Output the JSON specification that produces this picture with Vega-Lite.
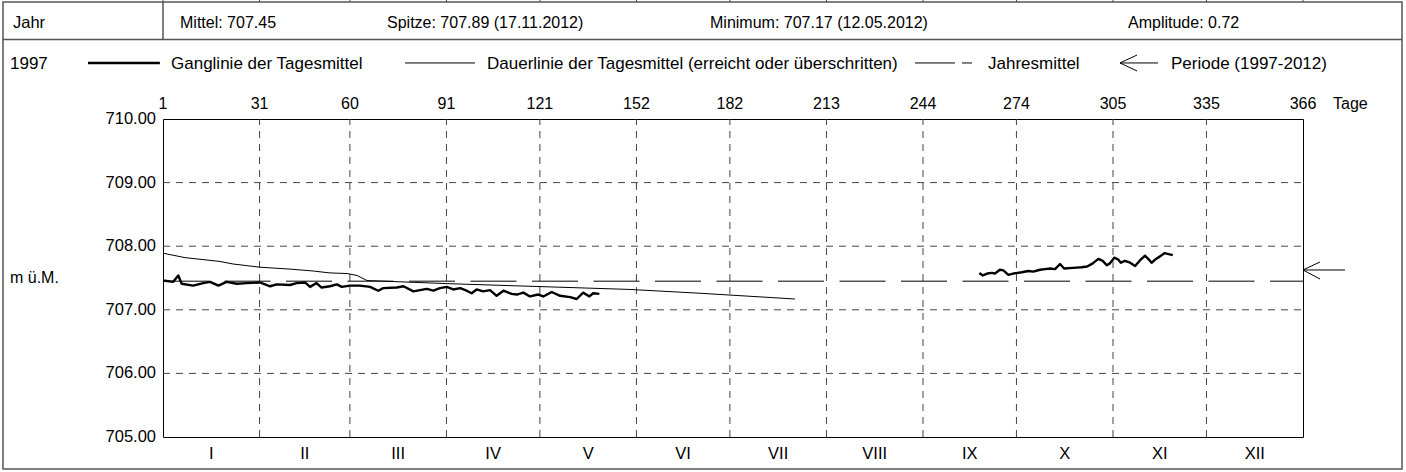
{
  "$schema": "https://vega.github.io/schema/vega-lite/v6.json",
  "width": 1140,
  "height": 318,
  "autosize": {"type": "none"},
  "padding": {"left": 163, "top": 119, "right": 103, "bottom": 35},
  "background": "white",
  "config": {"view": {"stroke": "#000", "strokeWidth": 1}, "font": "Liberation Sans"},
  "data": {"values": [{}]},
  "datasets": {
    "gang": [
      {"tag": 0, "w": 707.46, "seg": 1}, {"tag": 3.3, "w": 707.44, "seg": 1}, {"tag": 4.9, "w": 707.54, "seg": 1},
      {"tag": 6.0, "w": 707.41, "seg": 1}, {"tag": 9.7, "w": 707.38, "seg": 1}, {"tag": 12.9, "w": 707.42, "seg": 1},
      {"tag": 15.1, "w": 707.44, "seg": 1}, {"tag": 17.8, "w": 707.38, "seg": 1}, {"tag": 20.4, "w": 707.44, "seg": 1},
      {"tag": 23.7, "w": 707.41, "seg": 1}, {"tag": 26.9, "w": 707.42, "seg": 1}, {"tag": 31.1, "w": 707.43, "seg": 1},
      {"tag": 34.4, "w": 707.37, "seg": 1}, {"tag": 36.5, "w": 707.40, "seg": 1}, {"tag": 40.8, "w": 707.39, "seg": 1},
      {"tag": 42.9, "w": 707.42, "seg": 1}, {"tag": 45.6, "w": 707.43, "seg": 1}, {"tag": 47.2, "w": 707.36, "seg": 1},
      {"tag": 49.3, "w": 707.42, "seg": 1}, {"tag": 50.9, "w": 707.35, "seg": 1}, {"tag": 53.6, "w": 707.37, "seg": 1},
      {"tag": 55.8, "w": 707.40, "seg": 1}, {"tag": 57.4, "w": 707.36, "seg": 1}, {"tag": 60.0, "w": 707.38, "seg": 1},
      {"tag": 63.2, "w": 707.38, "seg": 1}, {"tag": 66.5, "w": 707.36, "seg": 1}, {"tag": 69.1, "w": 707.30, "seg": 1},
      {"tag": 70.7, "w": 707.34, "seg": 1}, {"tag": 75.0, "w": 707.35, "seg": 1}, {"tag": 77.2, "w": 707.37, "seg": 1},
      {"tag": 80.4, "w": 707.29, "seg": 1}, {"tag": 82.5, "w": 707.31, "seg": 1}, {"tag": 84.7, "w": 707.33, "seg": 1},
      {"tag": 86.8, "w": 707.30, "seg": 1}, {"tag": 88.9, "w": 707.34, "seg": 1}, {"tag": 91.1, "w": 707.36, "seg": 1},
      {"tag": 93.2, "w": 707.32, "seg": 1}, {"tag": 95.4, "w": 707.34, "seg": 1}, {"tag": 97.5, "w": 707.30, "seg": 1},
      {"tag": 99.1, "w": 707.26, "seg": 1}, {"tag": 100.7, "w": 707.32, "seg": 1}, {"tag": 102.8, "w": 707.29, "seg": 1},
      {"tag": 105.0, "w": 707.31, "seg": 1}, {"tag": 107.1, "w": 707.22, "seg": 1}, {"tag": 109.3, "w": 707.30, "seg": 1},
      {"tag": 111.9, "w": 707.25, "seg": 1}, {"tag": 113.6, "w": 707.24, "seg": 1}, {"tag": 115.7, "w": 707.27, "seg": 1},
      {"tag": 117.8, "w": 707.21, "seg": 1}, {"tag": 120.5, "w": 707.24, "seg": 1}, {"tag": 122.1, "w": 707.21, "seg": 1},
      {"tag": 124.8, "w": 707.28, "seg": 1}, {"tag": 127.5, "w": 707.22, "seg": 1}, {"tag": 130.7, "w": 707.20, "seg": 1},
      {"tag": 132.8, "w": 707.17, "seg": 1}, {"tag": 134.9, "w": 707.27, "seg": 1}, {"tag": 136.9, "w": 707.21, "seg": 1},
      {"tag": 138.1, "w": 707.26, "seg": 1}, {"tag": 140.1, "w": 707.25, "seg": 1},
      {"tag": 262.1, "w": 707.58, "seg": 2}, {"tag": 263.2, "w": 707.54, "seg": 2}, {"tag": 264.6, "w": 707.57, "seg": 2},
      {"tag": 266.1, "w": 707.58, "seg": 2}, {"tag": 267.1, "w": 707.57, "seg": 2}, {"tag": 268.7, "w": 707.63, "seg": 2},
      {"tag": 269.8, "w": 707.62, "seg": 2}, {"tag": 271.4, "w": 707.55, "seg": 2}, {"tag": 273.0, "w": 707.57, "seg": 2},
      {"tag": 275.7, "w": 707.59, "seg": 2}, {"tag": 277.8, "w": 707.61, "seg": 2}, {"tag": 279.4, "w": 707.60, "seg": 2},
      {"tag": 281.6, "w": 707.63, "seg": 2}, {"tag": 283.2, "w": 707.64, "seg": 2}, {"tag": 284.8, "w": 707.65, "seg": 2},
      {"tag": 286.4, "w": 707.64, "seg": 2}, {"tag": 288.0, "w": 707.72, "seg": 2}, {"tag": 289.3, "w": 707.65, "seg": 2},
      {"tag": 292.2, "w": 707.66, "seg": 2}, {"tag": 294.9, "w": 707.67, "seg": 2}, {"tag": 296.7, "w": 707.68, "seg": 2},
      {"tag": 298.5, "w": 707.73, "seg": 2}, {"tag": 300.3, "w": 707.80, "seg": 2}, {"tag": 301.7, "w": 707.77, "seg": 2},
      {"tag": 303.0, "w": 707.70, "seg": 2}, {"tag": 304.0, "w": 707.73, "seg": 2}, {"tag": 305.4, "w": 707.82, "seg": 2},
      {"tag": 306.7, "w": 707.79, "seg": 2}, {"tag": 307.5, "w": 707.74, "seg": 2}, {"tag": 308.8, "w": 707.77, "seg": 2},
      {"tag": 310.5, "w": 707.74, "seg": 2}, {"tag": 312.1, "w": 707.69, "seg": 2}, {"tag": 313.7, "w": 707.78, "seg": 2},
      {"tag": 315.3, "w": 707.85, "seg": 2}, {"tag": 316.7, "w": 707.78, "seg": 2}, {"tag": 317.4, "w": 707.74, "seg": 2},
      {"tag": 318.8, "w": 707.80, "seg": 2}, {"tag": 320.1, "w": 707.84, "seg": 2}, {"tag": 321.5, "w": 707.89, "seg": 2},
      {"tag": 324.2, "w": 707.86, "seg": 2}
    ],
    "dauer": [
      {"tag": 0, "w": 707.89}, {"tag": 7.1, "w": 707.82}, {"tag": 18.3, "w": 707.76}, {"tag": 22.5, "w": 707.72},
      {"tag": 31.1, "w": 707.67}, {"tag": 40.8, "w": 707.64}, {"tag": 48.2, "w": 707.61}, {"tag": 53.6, "w": 707.58},
      {"tag": 59.1, "w": 707.57}, {"tag": 62.3, "w": 707.54}, {"tag": 63.9, "w": 707.50}, {"tag": 65.5, "w": 707.46},
      {"tag": 92.1, "w": 707.41}, {"tag": 124.2, "w": 707.36}, {"tag": 149.9, "w": 707.32}, {"tag": 172.4, "w": 707.26},
      {"tag": 202.9, "w": 707.17}
    ],
    "monate": [
      {"monat": "I", "mitte": 15.5}, {"monat": "II", "mitte": 45.5}, {"monat": "III", "mitte": 75.5},
      {"monat": "IV", "mitte": 106}, {"monat": "V", "mitte": 136.5}, {"monat": "VI", "mitte": 167},
      {"monat": "VII", "mitte": 197.5}, {"monat": "VIII", "mitte": 228.5}, {"monat": "IX", "mitte": 259},
      {"monat": "X", "mitte": 289.5}, {"monat": "XI", "mitte": 320}, {"monat": "XII", "mitte": 350.5}
    ],
    "grenzen": [
      {"tag": 0, "label": "1"}, {"tag": 31, "label": "31"}, {"tag": 60, "label": "60"}, {"tag": 91, "label": "91"},
      {"tag": 121, "label": "121"}, {"tag": 152, "label": "152"}, {"tag": 182, "label": "182"}, {"tag": 213, "label": "213"},
      {"tag": 244, "label": "244"}, {"tag": 274, "label": "274"}, {"tag": 305, "label": "305"}, {"tag": 335, "label": "335"},
      {"tag": 366, "label": "366"}
    ],
    "stufen": [
      {"w": 705, "label": "705.00"}, {"w": 706, "label": "706.00"}, {"w": 707, "label": "707.00"},
      {"w": 708, "label": "708.00"}, {"w": 709, "label": "709.00"}, {"w": 710, "label": "710.00"}
    ]
  },
  "layer": [
    {
      "data": {"name": "grenzen"},
      "transform": [{"filter": "datum.tag > 0 && datum.tag < 366"}],
      "mark": {"type": "rule", "stroke": "#444", "strokeWidth": 1, "strokeDash": [7, 6]},
      "encoding": {
        "x": {"field": "tag", "type": "quantitative", "scale": {"domain": [0, 366], "nice": false, "zero": false}, "axis": null},
        "y": {"datum": 705, "type": "quantitative", "scale": {"domain": [705, 710], "nice": false, "zero": false}, "axis": null},
        "y2": {"datum": 710}
      }
    },
    {
      "data": {"name": "stufen"},
      "transform": [{"filter": "datum.w > 705 && datum.w < 710"}],
      "mark": {"type": "rule", "stroke": "#444", "strokeWidth": 1, "strokeDash": [7, 6]},
      "encoding": {
        "x": {"datum": 0, "type": "quantitative", "axis": null}, "x2": {"datum": 366},
        "y": {"field": "w", "type": "quantitative", "axis": null}
      }
    },
    {
      "data": {"name": "grenzen"},
      "mark": {"type": "text", "align": "center", "baseline": "alphabetic", "font": "Liberation Sans", "fontSize": 16, "fill": "#000"},
      "encoding": {
        "x": {"field": "tag", "type": "quantitative", "axis": null},
        "y": {"datum": 710.153, "type": "quantitative", "axis": null},
        "text": {"field": "label"}
      }
    },
    {
      "data": {"name": "stufen"},
      "mark": {"type": "text", "align": "right", "baseline": "middle", "font": "Liberation Sans", "fontSize": 16.5, "fill": "#000"},
      "encoding": {
        "x": {"datum": -2.25, "type": "quantitative", "axis": null},
        "y": {"field": "w", "type": "quantitative", "axis": null},
        "text": {"field": "label"}
      }
    },
    {
      "mark": {"type": "rule", "stroke": "#000", "strokeWidth": 1, "strokeDash": [46, 15.5]},
      "encoding": {
        "x": {"datum": 0, "type": "quantitative", "axis": null}, "x2": {"datum": 366},
        "y": {"datum": 707.45, "type": "quantitative", "axis": null}
      }
    },
    {
      "data": {"name": "dauer"},
      "mark": {"type": "line", "stroke": "#000", "strokeWidth": 1},
      "encoding": {
        "x": {"field": "tag", "type": "quantitative", "axis": null},
        "y": {"field": "w", "type": "quantitative", "axis": null}
      }
    },
    {
      "data": {"name": "gang"},
      "mark": {"type": "line", "stroke": "#000", "strokeWidth": 2.4, "strokeJoin": "round"},
      "encoding": {
        "x": {"field": "tag", "type": "quantitative", "axis": null},
        "y": {"field": "w", "type": "quantitative", "axis": null},
        "detail": {"field": "seg"}
      }
    },
    {
      "data": {"name": "monate"},
      "mark": {"type": "text", "align": "center", "baseline": "middle", "font": "Liberation Sans", "fontSize": 16.5, "fill": "#000"},
      "encoding": {
        "x": {"field": "mitte", "type": "quantitative", "axis": null},
        "y": {"datum": 704.733, "type": "quantitative", "axis": null},
        "text": {"field": "monat"}
      }
    },
    {
      "data": {"name": "grenzen"},
      "mark": {"type": "rule", "stroke": "#444", "strokeWidth": 1},
      "encoding": {
        "x": {"field": "tag", "type": "quantitative", "axis": null},
        "y": {"datum": 711.887, "type": "quantitative", "axis": null}, "y2": {"datum": 711.84}
      }
    },
    {
      "mark": {"type": "rect", "filled": false, "stroke": "#555", "strokeWidth": 1.5},
      "encoding": {
        "x": {"datum": -51.37, "type": "quantitative", "axis": null}, "x2": {"datum": 397.79},
        "y": {"datum": 711.84, "type": "quantitative", "axis": null}, "y2": {"datum": 704.497}
      }
    },
    {
      "mark": {"type": "rule", "stroke": "#555", "strokeWidth": 1.5},
      "encoding": {
        "x": {"datum": -51.37, "type": "quantitative", "axis": null}, "x2": {"datum": 397.79},
        "y": {"datum": 711.25, "type": "quantitative", "axis": null}
      }
    },
    {
      "mark": {"type": "rule", "stroke": "#555", "strokeWidth": 1.5},
      "encoding": {
        "x": {"datum": 0, "type": "quantitative", "axis": null},
        "y": {"datum": 711.84, "type": "quantitative", "axis": null}, "y2": {"datum": 711.25}
      }
    },
    {
      "mark": {"type": "text", "text": "Jahr", "align": "left", "baseline": "alphabetic", "font": "Liberation Sans", "fontSize": 16.5, "fill": "#000"},
      "encoding": {"x": {"datum": -48.16, "type": "quantitative", "axis": null}, "y": {"datum": 711.423, "type": "quantitative", "axis": null}}
    },
    {
      "mark": {"type": "text", "text": "Mittel: 707.45", "align": "left", "baseline": "alphabetic", "font": "Liberation Sans", "fontSize": 16, "fill": "#000"},
      "encoding": {"x": {"datum": 5.46, "type": "quantitative", "axis": null}, "y": {"datum": 711.423, "type": "quantitative", "axis": null}}
    },
    {
      "mark": {"type": "text", "text": "Spitze: 707.89 (17.11.2012)", "align": "left", "baseline": "alphabetic", "font": "Liberation Sans", "fontSize": 16, "fill": "#000"},
      "encoding": {"x": {"datum": 71.92, "type": "quantitative", "axis": null}, "y": {"datum": 711.423, "type": "quantitative", "axis": null}}
    },
    {
      "mark": {"type": "text", "text": "Minimum: 707.17 (12.05.2012)", "align": "left", "baseline": "alphabetic", "font": "Liberation Sans", "fontSize": 16, "fill": "#000"},
      "encoding": {"x": {"datum": 175.62, "type": "quantitative", "axis": null}, "y": {"datum": 711.423, "type": "quantitative", "axis": null}}
    },
    {
      "mark": {"type": "text", "text": "Amplitude: 0.72", "align": "left", "baseline": "alphabetic", "font": "Liberation Sans", "fontSize": 16, "fill": "#000"},
      "encoding": {"x": {"datum": 309.82, "type": "quantitative", "axis": null}, "y": {"datum": 711.423, "type": "quantitative", "axis": null}}
    },
    {
      "mark": {"type": "text", "text": "1997", "align": "left", "baseline": "alphabetic", "font": "Liberation Sans", "fontSize": 17, "fill": "#000"},
      "encoding": {"x": {"datum": -49.12, "type": "quantitative", "axis": null}, "y": {"datum": 710.786, "type": "quantitative", "axis": null}}
    },
    {
      "mark": {"type": "rule", "stroke": "#000", "strokeWidth": 2.4},
      "encoding": {"x": {"datum": -24.08, "type": "quantitative", "axis": null}, "x2": {"datum": -1.0}, "y": {"datum": 710.881, "type": "quantitative", "axis": null}}
    },
    {
      "mark": {"type": "text", "text": "Ganglinie der Tagesmittel", "align": "left", "baseline": "alphabetic", "font": "Liberation Sans", "fontSize": 17, "fill": "#000"},
      "encoding": {"x": {"datum": 2.57, "type": "quantitative", "axis": null}, "y": {"datum": 710.786, "type": "quantitative", "axis": null}}
    },
    {
      "mark": {"type": "rule", "stroke": "#000", "strokeWidth": 1},
      "encoding": {"x": {"datum": 77.7, "type": "quantitative", "axis": null}, "x2": {"datum": 100.17}, "y": {"datum": 710.881, "type": "quantitative", "axis": null}}
    },
    {
      "mark": {"type": "text", "text": "Dauerlinie der Tagesmittel (erreicht oder überschritten)", "align": "left", "baseline": "alphabetic", "font": "Liberation Sans", "fontSize": 17, "fill": "#000"},
      "encoding": {"x": {"datum": 104.02, "type": "quantitative", "axis": null}, "y": {"datum": 710.786, "type": "quantitative", "axis": null}}
    },
    {
      "mark": {"type": "rule", "stroke": "#000", "strokeWidth": 1, "strokeDash": [40, 7]},
      "encoding": {"x": {"datum": 241.43, "type": "quantitative", "axis": null}, "x2": {"datum": 259.73}, "y": {"datum": 710.881, "type": "quantitative", "axis": null}}
    },
    {
      "mark": {"type": "text", "text": "Jahresmittel", "align": "left", "baseline": "alphabetic", "font": "Liberation Sans", "fontSize": 17, "fill": "#000"},
      "encoding": {"x": {"datum": 264.87, "type": "quantitative", "axis": null}, "y": {"datum": 710.786, "type": "quantitative", "axis": null}}
    },
    {
      "mark": {"type": "rule", "stroke": "#000", "strokeWidth": 1},
      "encoding": {"x": {"datum": 307.25, "type": "quantitative", "axis": null}, "x2": {"datum": 319.45}, "y": {"datum": 710.881, "type": "quantitative", "axis": null}}
    },
    {
      "mark": {"type": "rule", "stroke": "#000", "strokeWidth": 1},
      "encoding": {"x": {"datum": 307.25, "type": "quantitative", "axis": null}, "x2": {"datum": 312.71}, "y": {"datum": 710.881, "type": "quantitative", "axis": null}, "y2": {"datum": 711.006}}
    },
    {
      "mark": {"type": "rule", "stroke": "#000", "strokeWidth": 1},
      "encoding": {"x": {"datum": 307.25, "type": "quantitative", "axis": null}, "x2": {"datum": 312.71}, "y": {"datum": 710.881, "type": "quantitative", "axis": null}, "y2": {"datum": 710.755}}
    },
    {
      "mark": {"type": "text", "text": "Periode (1997-2012)", "align": "left", "baseline": "alphabetic", "font": "Liberation Sans", "fontSize": 17, "fill": "#000"},
      "encoding": {"x": {"datum": 323.62, "type": "quantitative", "axis": null}, "y": {"datum": 710.786, "type": "quantitative", "axis": null}}
    },
    {
      "mark": {"type": "text", "text": "Tage", "align": "left", "baseline": "alphabetic", "font": "Liberation Sans", "fontSize": 16, "fill": "#000"},
      "encoding": {"x": {"datum": 375.63, "type": "quantitative", "axis": null}, "y": {"datum": 710.153, "type": "quantitative", "axis": null}}
    },
    {
      "mark": {"type": "text", "text": "m ü.M.", "align": "left", "baseline": "middle", "font": "Liberation Sans", "fontSize": 16, "fill": "#000"},
      "encoding": {"x": {"datum": -49.12, "type": "quantitative", "axis": null}, "y": {"datum": 707.5, "type": "quantitative", "axis": null}}
    },
    {
      "mark": {"type": "rule", "stroke": "#000", "strokeWidth": 1},
      "encoding": {"x": {"datum": 366, "type": "quantitative", "axis": null}, "x2": {"datum": 379.48}, "y": {"datum": 707.626, "type": "quantitative", "axis": null}}
    },
    {
      "mark": {"type": "rule", "stroke": "#000", "strokeWidth": 1},
      "encoding": {"x": {"datum": 366, "type": "quantitative", "axis": null}, "x2": {"datum": 371.45}, "y": {"datum": 707.626, "type": "quantitative", "axis": null}, "y2": {"datum": 707.752}}
    },
    {
      "mark": {"type": "rule", "stroke": "#000", "strokeWidth": 1},
      "encoding": {"x": {"datum": 366, "type": "quantitative", "axis": null}, "x2": {"datum": 371.45}, "y": {"datum": 707.626, "type": "quantitative", "axis": null}, "y2": {"datum": 707.484}}
    }
  ]
}
